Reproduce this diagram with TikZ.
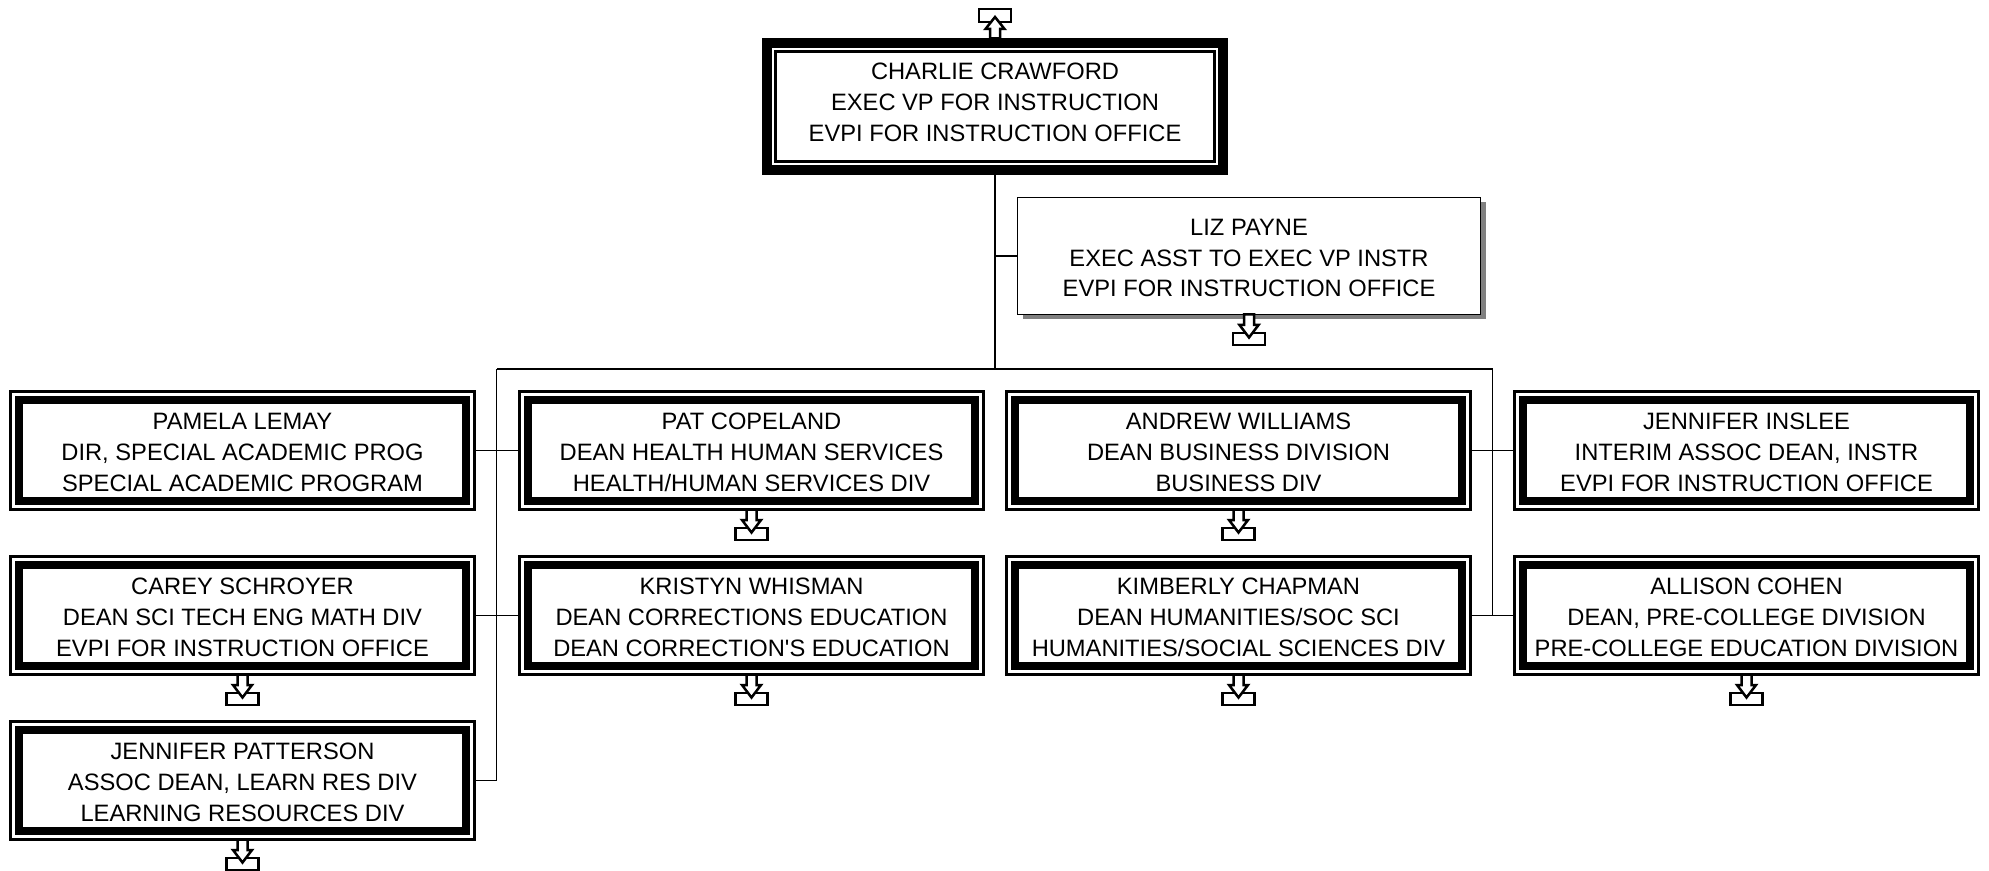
\documentclass[tikz,border=0pt]{standalone}
\usepackage{fontspec}
\setmainfont[Ligatures=TeXOff]{Liberation Sans}
\usetikzlibrary{positioning, shadows}

\begin{document}
\begin{tikzpicture}[
     node distance = 23.5pt and 22.5pt,
     every node/.style = {align=center, inner sep=0pt, outer sep=0pt,
                          font=\fontsize{11.85}{15.4}\selectfont},
        topbox/.style = {rectangle, draw, line width=.5pt, fill=white,
                         minimum width=232.5pt, minimum height=68pt, text depth=4.5pt,
                         path picture={
                           \draw[line width=14.5pt] (path picture bounding box.south west) rectangle (path picture bounding box.north east);
                           \draw[white, line width=11.5pt] (path picture bounding box.south west) rectangle (path picture bounding box.north east);
                           \draw[line width=9.5pt] (path picture bounding box.south west) rectangle (path picture bounding box.north east);}},
        deptbox/.style = {rectangle, draw, line width=1.5pt, fill=white,
                         minimum width=232pt, minimum height=59pt, text height=41pt, text depth=0pt,
                         path picture={
                           \draw[line width=12.5pt] (path picture bounding box.south west) rectangle (path picture bounding box.north east);
                           \draw[white, line width=4.5pt] (path picture bounding box.south west) rectangle (path picture bounding box.north east);}},
        asstbox/.style = {rectangle, draw, line width=.75pt, fill=white,
                         minimum width=231.5pt, minimum height=58.5pt, text height=41pt, text depth=0pt,
                         general shadow={shadow xshift=2.5pt, shadow yshift=-2.5pt, fill=black!50}},
        tray/.style = {draw, line width=1.25pt, fill=white},
        link/.style = {line width=.65pt},
        pics/expanddown/.style = {code={
                           \draw[tray] (-8pt,-9.25pt) rectangle (8pt,-15.25pt);
                           \draw[tray] (-2.5pt,0pt) -- (2.5pt,0pt) -- (2.5pt,-5.25pt) -- (4.75pt,-5.25pt) -- (0pt,-11.5pt) -- (-4.75pt,-5.25pt) -- (-2.5pt,-5.25pt) -- cycle;}},
        pics/expandup/.style = {code={
                           \draw[tray] (-8pt,8.25pt) rectangle (8pt,14.75pt);
                           \draw[tray] (-2.5pt,0pt) -- (2.5pt,0pt) -- (2.5pt,4.75pt) -- (4.75pt,4.75pt) -- (0pt,10.75pt) -- (-4.75pt,4.75pt) -- (-2.5pt,4.75pt) -- cycle;}}
                        ]
\useasboundingbox (0pt,0pt) rectangle (994.5pt,-435.5pt);
\node (charlie) [topbox] at (497.5pt,-53.25pt) {CHARLIE CRAWFORD\\EXEC VP FOR INSTRUCTION\\EVPI FOR INSTRUCTION OFFICE};
\node (liz) [asstbox] at (624.5pt,-128pt) {LIZ PAYNE\\EXEC ASST TO EXEC VP INSTR\\EVPI FOR INSTRUCTION OFFICE};
\node (pamela) [deptbox] at (121.25pt,-225.25pt) {PAMELA LEMAY\\DIR, SPECIAL ACADEMIC PROG\\SPECIAL ACADEMIC PROGRAM};
\node (carey) [deptbox,below =of pamela] {CAREY SCHROYER\\DEAN SCI TECH ENG MATH DIV\\EVPI FOR INSTRUCTION OFFICE};
\node (patterson) [deptbox,below =of carey] {JENNIFER PATTERSON\\ASSOC DEAN, LEARN RES DIV\\LEARNING RESOURCES DIV};
\node (pat) [deptbox,right =of pamela] {PAT COPELAND\\DEAN HEALTH HUMAN SERVICES\\HEALTH/HUMAN SERVICES DIV};
\node (kristyn) [deptbox,below =of pat] {KRISTYN WHISMAN\\DEAN CORRECTIONS EDUCATION\\DEAN CORRECTION'S EDUCATION};
\node (andrew) [deptbox,right =11.5pt of pat] {ANDREW WILLIAMS\\DEAN BUSINESS DIVISION\\BUSINESS DIV};
\node (kimberly) [deptbox,below =of andrew] {KIMBERLY CHAPMAN\\DEAN HUMANITIES/SOC SCI\\HUMANITIES/SOCIAL SCIENCES DIV};
\node (inslee) [deptbox,right =22pt of andrew] {JENNIFER INSLEE\\INTERIM ASSOC DEAN, INSTR\\EVPI FOR INSTRUCTION OFFICE};
\node (allison) [deptbox,below =of inslee] {ALLISON COHEN\\DEAN, PRE-COLLEGE DIVISION\\PRE-COLLEGE EDUCATION DIVISION};
\coordinate (busleft) at (248.4pt,-184.5pt);
\coordinate (busright) at (746.4pt,-184.5pt);
\draw[link] (charlie.south) to (charlie.south |- busleft);
\draw[link] (liz.west) to (liz.west -| charlie.south);
\draw[link] (busleft) to (busright);
\draw[link] (busleft) |- (patterson.east);
\draw[link] (busright) to (busright |- allison.east);
\draw[link] (pamela) to (pat);
\draw[link] (carey) to (kristyn);
\draw[link] (andrew) to (inslee);
\draw[link] (kimberly) to (allison);
\pic at (charlie.north) {expandup};
\pic at (liz.south) {expanddown};
\pic at (carey.south) {expanddown};
\pic at (patterson.south) {expanddown};
\pic at (pat.south) {expanddown};
\pic at (kristyn.south) {expanddown};
\pic at (andrew.south) {expanddown};
\pic at (kimberly.south) {expanddown};
\pic at (allison.south) {expanddown};
\end{tikzpicture}
\end{document}
